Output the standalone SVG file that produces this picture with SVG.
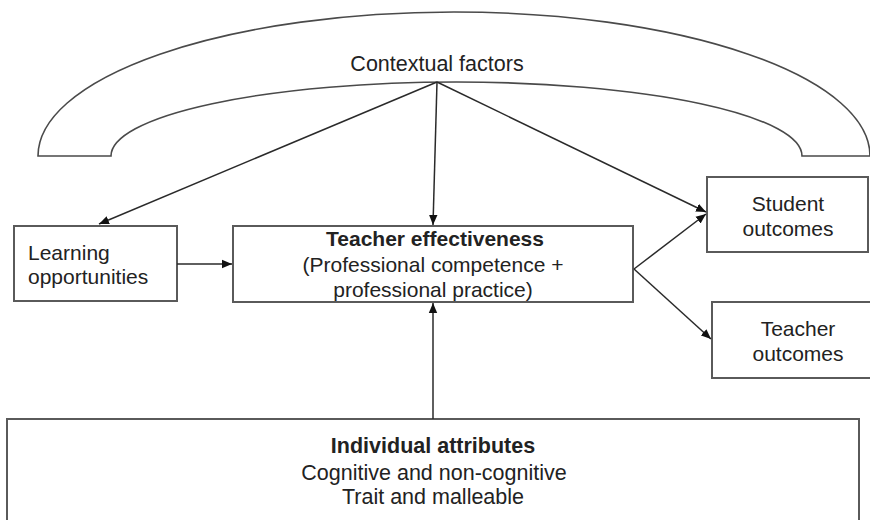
<svg xmlns="http://www.w3.org/2000/svg" width="870" height="520" viewBox="0 0 870 520">
  <style>
    .box { fill: #fff; stroke: #5a5a5a; stroke-width: 2; }
    .arch { fill: #fff; stroke: #4a4a4a; stroke-width: 1.6; }
    .link { fill: none; stroke: #2a2a2a; stroke-width: 1.5; marker-end: url(#arrow); }
    text { font-family: "Liberation Sans", Arial, Helvetica, sans-serif; fill: #222; font-size: 21px; }
    .c { text-anchor: middle; }
    .b { font-weight: bold; }
    .lg { font-size: 21.5px; }
  </style>
  <defs>
    <marker id="arrow" viewBox="0 0 10 10" refX="10" refY="5" markerWidth="10" markerHeight="10" markerUnits="userSpaceOnUse" orient="auto">
      <path d="M0,0.8 L10,5 L0,9.2 Z" fill="#111"/>
    </marker>
  </defs>

  <!-- contextual factors band -->
  <g id="contextual-factors">
    <path class="arch" d="M38,156 A416,144 0 0 1 870,156 L802,156 A345.5,74 0 0 0 111,156 Z"/>
    <text class="c lg" x="437" y="71">Contextual factors</text>
  </g>

  <g id="learning-opportunities">
    <rect class="box" x="14" y="226" width="163" height="75"/>
    <text x="28" y="260">Learning</text>
    <text x="28" y="284">opportunities</text>
  </g>

  <g id="teacher-effectiveness">
    <rect class="box" x="233" y="226" width="400" height="76"/>
    <text class="c b" x="435" y="246">Teacher effectiveness</text>
    <text class="c" x="433" y="272">(Professional competence +</text>
    <text class="c" x="433" y="297">professional practice)</text>
  </g>

  <g id="student-outcomes">
    <rect class="box" x="707" y="177" width="161" height="75"/>
    <text class="c" x="788" y="211">Student</text>
    <text class="c" x="788" y="236">outcomes</text>
  </g>

  <g id="teacher-outcomes">
    <rect class="box" x="712" y="302" width="160" height="76"/>
    <text class="c" x="798" y="336">Teacher</text>
    <text class="c" x="798" y="361">outcomes</text>
  </g>

  <g id="individual-attributes">
    <rect class="box" x="7" y="419" width="852" height="120"/>
    <text class="c b lg" x="433" y="453">Individual attributes</text>
    <text class="c lg" x="434" y="480">Cognitive and non-cognitive</text>
    <text class="c lg" x="433" y="504">Trait and malleable</text>
  </g>

  <g id="connectors">
    <line class="link" x1="437" y1="82" x2="99" y2="224"/>
    <line class="link" x1="437" y1="82" x2="433" y2="225"/>
    <line class="link" x1="437" y1="82" x2="706" y2="212"/>
    <line class="link" x1="177" y1="264" x2="232" y2="264"/>
    <line class="link" x1="433" y1="419" x2="433" y2="303"/>
    <line class="link" x1="634" y1="269" x2="706" y2="214"/>
    <line class="link" x1="634" y1="269" x2="711" y2="339"/>
  </g>
</svg>
